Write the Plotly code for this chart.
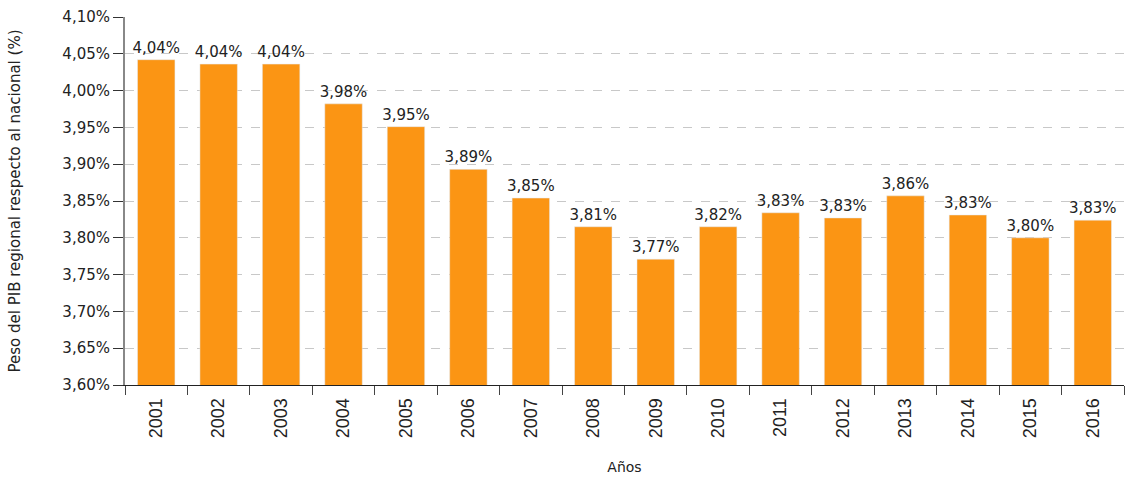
import plotly.graph_objects as go

years = [str(y) for y in range(2001, 2017)]
peso = [4.042, 4.036, 4.036, 3.982, 3.951, 3.893, 3.854, 3.815, 3.771,
        3.815, 3.834, 3.827, 3.857, 3.831, 3.800, 3.824]
etiquetas = ["4,04%", "4,04%", "4,04%", "3,98%", "3,95%", "3,89%", "3,85%", "3,81%",
             "3,77%", "3,82%", "3,83%", "3,83%", "3,86%", "3,83%", "3,80%", "3,83%"]
y_ticks = [3.60, 3.65, 3.70, 3.75, 3.80, 3.85, 3.90, 3.95, 4.00, 4.05, 4.10]
y_ticklabels = ["3,60%", "3,65%", "3,70%", "3,75%", "3,80%", "3,85%",
                "3,90%", "3,95%", "4,00%", "4,05%", "4,10%"]

fig = go.Figure()
fig.add_trace(go.Bar(
    x=years, y=peso, base=0,
    marker_color="#FB9514",
    text=etiquetas, textposition="outside", cliponaxis=False,
    constraintext="none",
    textfont=dict(family="DejaVu Sans", size=15, color="#222"),
))

fig.update_layout(
    width=1126, height=479,
    margin=dict(l=125, r=2, t=17, b=94),
    plot_bgcolor="white", paper_bgcolor="white",
    bargap=0.4, showlegend=False,
    font=dict(family="DejaVu Sans", size=15, color="#222"),
)
fig.update_yaxes(
    range=[3.60, 4.10], tickvals=y_ticks, ticktext=y_ticklabels,
    showgrid=True, gridcolor="#c8c8c8", griddash="dash", gridwidth=1,
    showline=True, linecolor="#888", linewidth=2,
    ticks="outside", ticklen=10, tickcolor="#333",
    automargin=False,
    title=dict(text="Peso del PIB regional respecto al nacional (%)",
               font=dict(family="DejaVu Sans", size=15), standoff=38),
    zeroline=False,
)
fig.update_xaxes(
    tickangle=-90, tickfont=dict(family="Liberation Sans", size=18),
    ticklabelstandoff=5,
    showline=True, linecolor="#222", linewidth=1,
    ticks="outside", ticklen=9, tickcolor="#444", tickson="boundaries",
    automargin=False,
    title=dict(text="Años", font=dict(family="DejaVu Sans", size=14), standoff=24),
)

# sin margen del body para que la figura quede en (0,0)
fig.write_html("out.html", config={"displayModeBar": False},
               post_script="document.body.style.margin='0';")
